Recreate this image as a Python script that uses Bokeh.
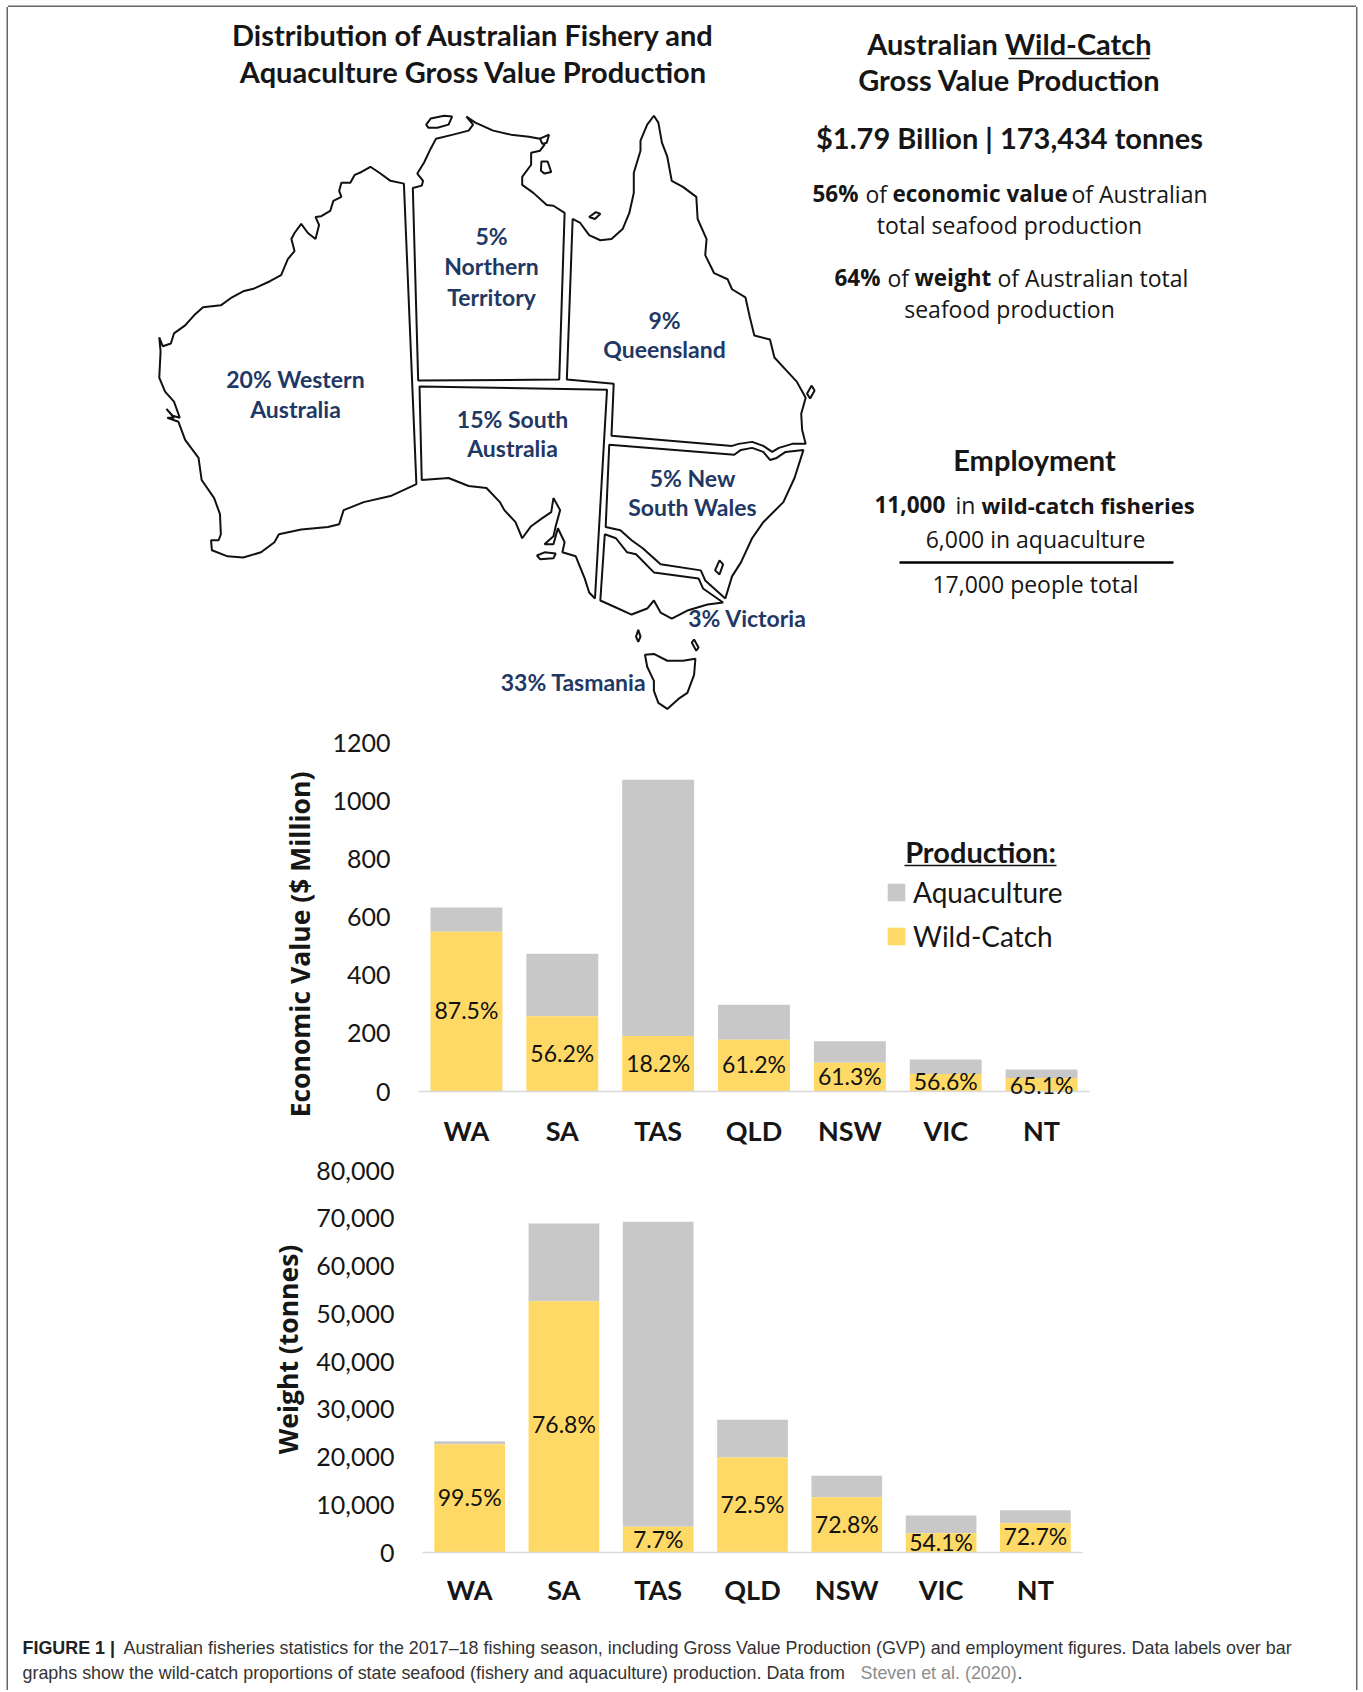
from math import pi
import numpy as np
from bokeh.embed import file_html
from bokeh.resources import INLINE
from bokeh.plotting import figure
from bokeh.layouts import column
from bokeh.core.properties import value
from bokeh.models import (Range1d, ColumnDataSource, Legend, LegendItem, FixedTicker, NumeralTickFormatter)

states = ["WA", "SA", "TAS", "QLD", "NSW", "VIC", "NT"]
value_wild = [549, 259, 191, 178, 99, 60, 46]
value_aqua = [84, 215, 881, 120, 74, 50, 30]
value_share = ["87.5%", "56.2%", "18.2%", "61.2%", "61.3%", "56.6%", "65.1%"]
value_label_at = [273, 125, 92, 86, 46, 29, 16]
value_ticks = [0, 200, 400, 600, 800, 1000, 1200]

weight_wild = [22690, 52630, 5375, 19900, 11590, 4050, 6140]
weight_aqua = [626, 16270, 63875, 7880, 4460, 3700, 2730]
weight_share = ["99.5%", "76.8%", "7.7%", "72.5%", "72.8%", "54.1%", "72.7%"]
weight_label_at = [11240, 26390, 2510, 9770, 5580, 1745, 3140]
weight_ticks = [0, 10000, 20000, 30000, 40000, 50000, 60000, 70000, 80000]

WA = [(590,207),(560,200),(535,180),(515,165),(495,178),(480,185),(470,205),(450,205),(445,225),(450,240),(432,250),(425,275),(405,288),(392,290),(400,310),(392,345),(375,330),(360,307),(345,330),(338,345),(345,375),(330,395),(315,435),(290,450),(255,468),(230,475),(205,490),(180,510),(140,515),(120,535),(100,560),(75,580),(68,605),(50,612),(42,590),(45,625),(42,690),(55,725),(75,750),(88,790),(72,785),(58,768),(75,790),(60,790),(85,800),(100,845),(130,890),(137,945),(165,990),(178,1030),(180,1080),(175,1095),(158,1095),(160,1120),(195,1135),(230,1138),(270,1125),(300,1100),(310,1080),(360,1068),(420,1062),(445,1055),(455,1020),(500,1000),(560,985),(618,955)]
NT = [(610,218),(630,212),(633,200),(620,182),(635,155),(650,120),(662,95),(700,85),(735,75),(745,60),(730,40),(750,55),(790,75),(830,85),(870,90),(895,95),(905,110),(895,125),(875,130),(875,160),(855,190),(855,210),(880,230),(910,260),(925,262),(950,280),(938,695),(622,697)]
QLD = [(968,295),(985,305),(1005,335),(1030,348),(1055,345),(1080,320),(1095,280),(1105,230),(1105,180),(1120,125),(1120,100),(1135,60),(1150,38),(1160,55),(1168,105),(1180,140),(1190,200),(1215,215),(1245,240),(1248,295),(1268,345),(1265,385),(1285,430),(1315,445),(1325,470),(1355,490),(1365,540),(1375,585),(1410,595),(1420,640),(1445,670),(1470,700),(1490,740),(1480,780),(1482,820),(1490,855),(1460,855),(1430,865),(1415,875),(1395,860),(1370,850),(1340,855),(1325,860),(1055,835),(1060,705),(955,695)]
SA = [(625,712),(1045,720),(1018,1240),(1005,1225),(995,1190),(975,1135),(945,1125),(950,1100),(935,1065),(925,1105),(905,1105),(925,1085),(930,1060),(940,1020),(925,990),(920,1025),(900,1040),(875,1060),(855,1090),(840,1050),(815,1020),(805,1000),(775,965),(735,960),(690,940),(630,945)]
NSW = [(1050,857),(1330,882),(1345,870),(1370,865),(1395,875),(1410,895),(1425,890),(1445,875),(1485,870),(1465,940),(1440,1000),(1395,1050),(1370,1090),(1345,1150),(1325,1185),(1310,1240),(1265,1195),(1255,1170),(1165,1155),(1125,1115),(1100,1095),(1075,1070),(1042,1062)]
VIC = [(1040,1080),(1065,1090),(1090,1125),(1110,1130),(1150,1175),(1250,1190),(1260,1215),(1305,1250),(1270,1255),(1225,1270),(1190,1290),(1165,1275),(1150,1245),(1135,1265),(1100,1280),(1060,1260),(1030,1245)]
TAS = [(1130,1380),(1150,1378),(1180,1395),(1215,1395),(1243,1390),(1240,1430),(1225,1475),(1205,1490),(1180,1515),(1160,1500),(1150,1470),(1150,1445),(1135,1410)]
ISLANDS = [
    [(640,60),(650,45),(680,38),(698,40),(690,60),(665,68),(645,68)],
    [(898,152),(912,152),(920,178),(905,182),(897,175)],
    [(895,95),(915,85),(910,105),(900,108)],
    [(1005,290),(1020,278),(1030,282),(1018,295)],
    [(888,1133),(905,1125),(930,1128),(925,1140),(895,1142)],
    [(1110,1335),(1115,1318),(1120,1335),(1115,1348)],
    [(1235,1350),(1240,1342),(1250,1362),(1245,1370)],
    [(1493,730),(1503,710),(1510,722),(1500,742)],
    [(1287,1170),(1297,1145),(1305,1155),(1297,1180)],
]
SHAPES = [WA, NT, QLD, SA, NSW, VIC, TAS] + ISLANDS

INK = "#161616"
NAVY = "#1f3864"
PAGE_X, PAGE_Y, PAGE_R = 8, 7, 1356
WIDTH = PAGE_R - PAGE_X


def base_page(height, y0, y1):
    p = figure(width=WIDTH, height=height, x_range=Range1d(PAGE_X, PAGE_R), y_range=Range1d(y1, y0),
               output_backend="svg", toolbar_location=None, min_border=0, frame_align=False)
    p.axis.visible = False
    p.grid.visible = False
    p.outline_line_color = None
    return p


def put(p, x, y, s, size, font="Lato", bold=False, color=INK, align="center", **kw):
    p.text([x], [y], text=[s], text_font=value(font), text_font_size=f"{size}px",
           text_font_style="bold" if bold else "normal", text_color=color,
           text_align=align, text_baseline="middle", **kw)


# ---------- map + text panel ----------
top = base_page(718, PAGE_Y, 725)
xs = [[140 + a / 2.24 for a, b in s] for s in SHAPES]
ys = [[100 + b / 2.49 for a, b in s] for s in SHAPES]
top.patches(xs, ys, fill_color="white", line_color="#111111", line_width=2)

HEAD = 29
REG = 23
BLD = 22.5
put(top, 473, 34, "Distribution of Australian Fishery and", HEAD, bold=True)
put(top, 473, 71, "Aquaculture Gross Value Production", HEAD, bold=True)
put(top, 1009, 43, "Australian Wild-Catch", HEAD, bold=True)
top.segment([1008], [58], [1149], [58], line_color=INK, line_width=1.6)
put(top, 1009, 79, "Gross Value Production", HEAD, bold=True)
put(top, 1009, 137, "$1.79 Billion | 173,434 tonnes", HEAD, bold=True)

put(top, 812, 193, "56%", BLD, "Open Sans", True, align="left")
put(top, 865, 193, "of", REG, "Open Sans", align="left")
put(top, 892, 193, "economic value", BLD, "Open Sans", True, align="left")
put(top, 1071, 193, "of Australian", REG, "Open Sans", align="left")
put(top, 1009, 224, "total seafood production", REG, "Open Sans")
put(top, 834, 277, "64%", BLD, "Open Sans", True, align="left")
put(top, 887, 277, "of", REG, "Open Sans", align="left")
put(top, 914, 277, "weight", BLD, "Open Sans", True, align="left")
put(top, 997, 277, "of Australian total", REG, "Open Sans", align="left")
put(top, 1009, 308, "seafood production", REG, "Open Sans")

put(top, 1034, 459, "Employment", HEAD, bold=True)
put(top, 874, 504, "11,000", BLD, "Open Sans", True, align="left")
put(top, 955, 504, "in", REG, "Open Sans", align="left")
put(top, 981, 504, "wild-catch fisheries", 22, "Open Sans", True, align="left")
put(top, 1035, 538, "6,000 in aquaculture", REG, "Open Sans")
top.segment([899], [562], [1173], [562], line_color="#000000", line_width=2.4)
put(top, 1035, 583, "17,000 people total", REG, "Open Sans")

for cx, cy, s in [(491, 235, "5%"), (491, 265, "Northern"), (491, 296, "Territory"),
                  (664, 319, "9%"), (664, 348, "Queensland"),
                  (295, 378, "20% Western"), (295, 408, "Australia"),
                  (512, 418, "15% South"), (512, 447, "Australia"),
                  (692, 477, "5% New"), (692, 506, "South Wales"),
                  (747, 617, "3% Victoria"), (573, 681, "33% Tasmania")]:
    put(top, cx, cy, s, 23, bold=True, color=NAVY)


# ---------- bar panels: the frame fills the panel, the axes sit at the zero lines ----------
def bars(T, B, f_left, f_right, f_top, f_bottom, ymax, ticks, wild, aqua, share, label_at, x_standoff, fmt=None):
    step = (f_right - f_left) / len(states)
    per_px = ymax / (f_bottom - f_top)
    p = figure(width=WIDTH, height=B - T, output_backend="svg", toolbar_location=None,
               frame_align=False, min_border=0,
               x_range=Range1d((PAGE_X - f_left) / step, len(states) + (PAGE_R - f_right) / step),
               y_range=Range1d(-(B - f_bottom) * per_px, ymax + (f_top - T) * per_px))
    p.extra_x_ranges = {"px": Range1d(PAGE_X, PAGE_R)}
    p.extra_y_ranges = {"px": Range1d(B, T)}
    wild = np.array(wild, float)
    aqua = np.array(aqua, float)
    pos = np.arange(len(states)) + 0.5
    src = ColumnDataSource(dict(x=pos, wild=wild, total=wild + aqua, share=share, at=label_at))
    r_aqua = p.vbar(x="x", bottom="wild", top="total", width=0.75, source=src,
                    fill_color="#c8c8c8", line_color=None)
    r_wild = p.vbar(x="x", bottom=0, top="wild", width=0.75, source=src,
                    fill_color="#ffd966", line_color=None)
    p.text(x="x", y="at", text="share", source=src, text_align="center", text_baseline="middle",
           text_font=value("Lato"), text_font_size="23px", text_color="#111111", y_offset=-2, level="overlay")
    p.grid.visible = False
    p.outline_line_color = None
    p.xaxis.fixed_location = 0
    p.yaxis.fixed_location = 0
    p.xaxis.bounds = (0, len(states))
    p.xaxis.ticker = FixedTicker(ticks=list(pos))
    p.xaxis.major_label_overrides = {float(a): s for a, s in zip(pos, states)}
    p.yaxis.ticker = FixedTicker(ticks=ticks)
    if fmt:
        p.yaxis.formatter = NumeralTickFormatter(format=fmt)
    for ax in (p.xaxis[0], p.yaxis[0]):
        ax.major_tick_line_color = None
        ax.minor_tick_line_color = None
        ax.major_label_text_font = "Lato"
        ax.major_label_text_color = INK
    p.yaxis.axis_line_color = None
    p.yaxis.major_label_text_font_size = "25px"
    p.yaxis.major_label_standoff = 22
    p.xaxis.axis_line_color = "#d9d9d9"
    p.xaxis.axis_line_width = 1.5
    p.xaxis.major_label_text_font_size = "27px"
    p.xaxis.major_label_text_font_style = "bold"
    p.xaxis.major_label_standoff = x_standoff
    return p, r_aqua, r_wild


def y_title(p, x, y, s, size=26.5):
    put(p, x, y, s, size, "Open Sans", True, angle=pi / 2, x_range_name="px", y_range_name="px")


c1, a1, w1 = bars(725, 1155, 418, 1089, 742, 1091, 1200, value_ticks, value_wild, value_aqua,
                  value_share, value_label_at, 16)
y_title(c1, 299, 944, "Economic Value ($ Million)")
legend = Legend(items=[LegendItem(label="Aquaculture", renderers=[a1]),
                       LegendItem(label="Wild-Catch", renderers=[w1])],
                location=(877, 202), padding=0, margin=0, glyph_width=22, glyph_height=22,
                label_standoff=6, spacing=10, background_fill_alpha=0, border_line_color=None,
                label_text_font="Lato", label_text_font_size="28px", label_text_color=INK)
c1.add_layout(legend)
put(c1, 980, 851, "Production:", 29, bold=True, x_range_name="px", y_range_name="px")
c1.segment([904], [865], [1056], [865], line_color=INK, line_width=1.6, x_range_name="px", y_range_name="px")

c2, _, _ = bars(1155, 1613, 422, 1082, 1170, 1552, 80000, weight_ticks, weight_wild, weight_aqua,
                weight_share, weight_label_at, 14, fmt="0,0")
y_title(c2, 287, 1349, "Weight (tonnes)")

# ---------- caption ----------
cap = base_page(77, 1613, 1690)
CAP = "#333333"
CS = 17.9
put(cap, 22, 1647, "FIGURE 1 |", CS, "Liberation Sans", True, "#222222", "left")
put(cap, 123, 1647, "Australian fisheries statistics for the 2017\u201318 fishing season, including Gross Value Production (GVP) and employment figures. Data labels over bar",
    CS, "Liberation Sans", color=CAP, align="left")
put(cap, 22, 1672, "graphs show the wild-catch proportions of state seafood (fishery and aquaculture) production. Data from",
    CS, "Liberation Sans", color=CAP, align="left")
put(cap, 860, 1672, "Steven et al. (2020)", CS, "Liberation Sans", color="#8c8c8c", align="left")
put(cap, 1017, 1672, ".", CS, "Liberation Sans", color=CAP, align="left")

page = column(top, c1, c2, cap, spacing=0, margin=(PAGE_Y, 0, 0, PAGE_X),
              styles={"box-shadow": "-1.5px 0 0 #666666, 1.5px 0 0 #666666, 0 -1.5px 0 #666666"})
open("out.html", "w").write(file_html(page, INLINE))
